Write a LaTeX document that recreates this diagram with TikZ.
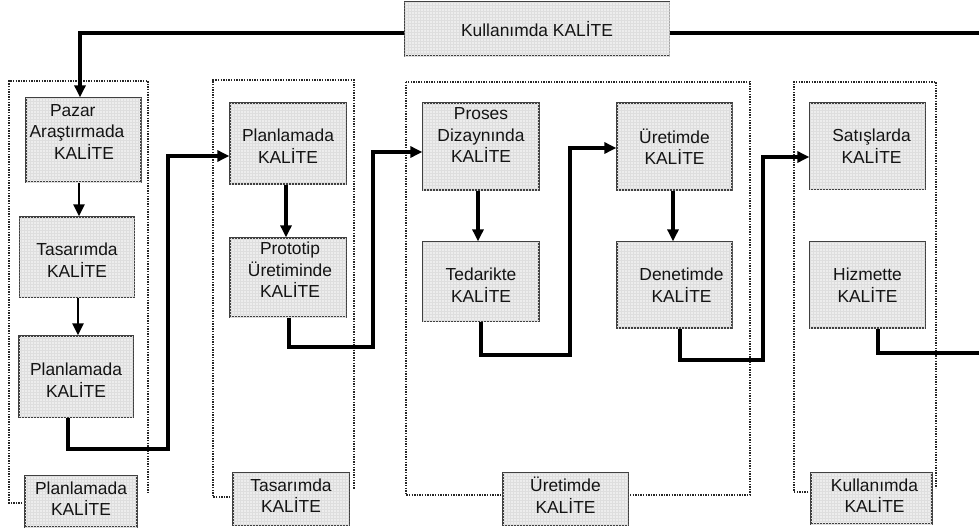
\documentclass[tikz,border=0pt]{standalone}
\usepackage{fontspec}
\setmainfont{Liberation Sans}
\usetikzlibrary{arrows.meta,patterns}
\newcommand{\boxfont}{\fontsize{17.4}{21.5}\selectfont}
\tikzset{
  qbox/.style={draw=black!75, line width=1.3pt, fill=black!7,
    postaction={pattern=grid, pattern color=black!13}, inner sep=0pt},
  qtext/.style={font=\boxfont, align=center, text=black!92, inner sep=0pt},
  link/.style={line width=3.2pt, line join=miter, black},
  tipped/.style={-{Triangle[length=12pt,width=11pt]}},
  grp/.style={line width=1.5pt, dash pattern=on 1.4pt off 1.2pt, black!85},
}
\begin{document}
\begin{tikzpicture}[x=1pt,y=-1pt]
\useasboundingbox (0,0) rectangle (979,530);
\fill[white] (0,0) rectangle (979,530);

% dotted groups
\draw[grp] (25,503) -- (9,503) -- (9,81) -- (148,81) -- (148,493);
\draw[grp] (233,497) -- (213,497) -- (213,80) -- (354,80) -- (354,489);
\draw[grp] (406,82) rectangle (750,495);
\draw[grp] (811,492) -- (794,492) -- (794,82) -- (936,82) -- (936,488);

% boxes
\node[qbox, minimum width=265pt, minimum height=54pt,
  label={[qtext, name=topT]center:{Kullanımda KALİTE}}] (top) at (537,29) {};

\node[qbox, minimum width=115pt, minimum height=84pt,
  label={[qtext, name=pazarT, yshift=8pt, xshift=-6.5pt]center:{Pazar\hspace*{8.4pt}\\Araştırmada\\\hspace*{14pt}KALİTE}}] (pazar) at (83.5,140) {};
\node[qbox, minimum width=115pt, minimum height=80pt,
  label={[qtext, name=tas1T, yshift=-3pt]center:{Tasarımda\\KALİTE}}] (tas1) at (77,257) {};
\node[qbox, minimum width=114pt, minimum height=81pt,
  label={[qtext, name=plan1T, yshift=-3.5pt]center:{Planlamada\\KALİTE}}] (plan1) at (76,376.5) {};
\node[qbox, minimum width=112pt, minimum height=51pt,
  label={[qtext, name=lab1T, yshift=3pt]center:{Planlamada\\KALİTE}}] (lab1) at (81,501.5) {};

\node[qbox, minimum width=116pt, minimum height=81pt,
  label={[qtext, name=plan2T, yshift=-2.5pt]center:{Planlamada\\KALİTE}}] (plan2) at (288,143.5) {};
\node[qbox, minimum width=116pt, minimum height=79pt,
  label={[qtext, name=protoT, yshift=7.5pt, xshift=2pt]center:{Prototip\\Üretiminde\\KALİTE}}] (proto) at (288,277.5) {};
\node[qbox, minimum width=116pt, minimum height=52pt,
  label={[qtext, name=lab2T, yshift=3.5pt]center:{Tasarımda\\KALİTE}}] (lab2) at (291,499) {};

\node[qbox, minimum width=116pt, minimum height=87pt,
  label={[qtext, name=prosesT, yshift=11pt]center:{Proses\\Dizaynında\\KALİTE}}] (proses) at (481,146.5) {};
\node[qbox, minimum width=116pt, minimum height=79pt,
  label={[qtext, name=tedT, yshift=-3.5pt]center:{Tedarikte\\KALİTE}}] (ted) at (481,281.5) {};
\node[qbox, minimum width=115pt, minimum height=87pt,
  label={[qtext, name=uretT]center:{Üretimde\\KALİTE}}] (uret) at (674.5,146.5) {};
\node[qbox, minimum width=115pt, minimum height=86pt,
  label={[qtext, name=denetT, xshift=7pt]center:{Denetimde\\KALİTE}}] (denet) at (674.5,285) {};
\node[qbox, minimum width=125pt, minimum height=52pt,
  label={[qtext, name=lab3T, yshift=4pt]center:{Üretimde\\KALİTE}}] (lab3) at (565.5,499) {};

\node[qbox, minimum width=115pt, minimum height=86pt,
  label={[qtext, name=satT, xshift=4pt]center:{Satışlarda\\KALİTE}}] (sat) at (867.5,146) {};
\node[qbox, minimum width=115pt, minimum height=86pt,
  label={[qtext, name=hizT]center:{Hizmette\\KALİTE}}] (hiz) at (867.5,285) {};
\node[qbox, minimum width=121pt, minimum height=51pt,
  label={[qtext, name=lab4T, yshift=3pt, xshift=3pt]center:{Kullanımda\\KALİTE}}] (lab4) at (871.5,498.5) {};

% helper coordinates
\coordinate (ly) at (0,33);
\coordinate (lx) at (80,0);
\coordinate (rEnd) at (979,33);
\coordinate (x79) at (79,0);
\coordinate (x78) at (78,0);
\coordinate (x286) at (286,0);
\coordinate (x478) at (478,0);
\coordinate (x673) at (673,0);
\coordinate (p1x) at (68,0);
\coordinate (c1a) at (168,449);
\coordinate (c1b) at (168,156);
\coordinate (p2x) at (289,0);
\coordinate (c2a) at (373,347);
\coordinate (c2b) at (373,152);
\coordinate (p3x) at (481,0);
\coordinate (c3a) at (570,355);
\coordinate (c3b) at (570,148);
\coordinate (p4x) at (680,0);
\coordinate (c4a) at (763,360);
\coordinate (c4b) at (763,157);
\coordinate (p5x) at (878,0);
\coordinate (hEnd) at (979,353);

% top feedback lines
\draw[link, tipped] (top.west |- ly) -| (lx |- pazar.north);
\draw[link] (top.east |- ly) -- (rEnd);

% vertical arrows inside columns
\draw[link, tipped, line width=2.7pt] (x79 |- pazar.south) -- (x79 |- tas1.north);
\draw[link, tipped, line width=2.4pt] (x78 |- tas1.south) -- (x78 |- plan1.north);
\draw[link, tipped] (x286 |- plan2.south) -- (x286 |- proto.north);
\draw[link, tipped] (x478 |- proses.south) -- (x478 |- ted.north);
\draw[link, tipped] (x673 |- uret.south) -- (x673 |- denet.north);

% connectors between columns
\draw[link, tipped] (p1x |- plan1.south) |- (c1a) -- (c1b) -- (c1b -| plan2.west);
\draw[link, tipped] (p2x |- proto.south) |- (c2a) -- (c2b) -- (c2b -| proses.west);
\draw[link, tipped] (p3x |- ted.south) |- (c3a) -- (c3b) -- (c3b -| uret.west);
\draw[link, tipped] (p4x |- denet.south) |- (c4a) -- (c4b) -- (c4b -| sat.west);
\draw[link] (p5x |- hiz.south) |- (hEnd);
\end{tikzpicture}
\end{document}
